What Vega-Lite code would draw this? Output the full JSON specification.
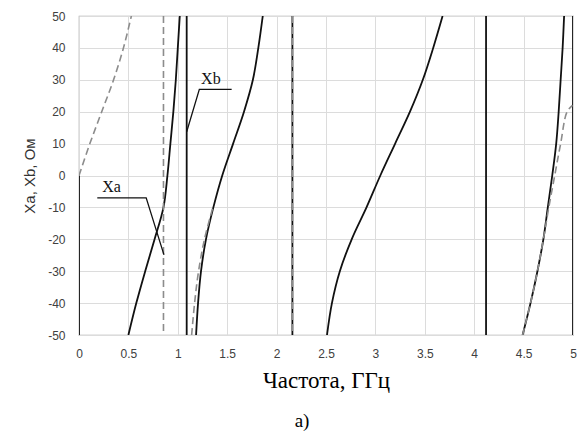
{
  "$schema": "https://vega.github.io/schema/vega-lite/v6.json",
  "width": 494,
  "height": 319,
  "autosize": "none",
  "padding": {"left": 79, "top": 16, "right": 6, "bottom": 100},
  "background": "white",
  "config": {
    "view": {"stroke": "#a6a6a6", "strokeWidth": 1.2},
    "axis": {"domain": false, "ticks": false, "grid": true, "gridColor": "#dcdcdc", "gridWidth": 1,
             "labelFont": "Liberation Sans", "labelFontSize": 12, "labelColor": "#404040",
             "labelFlush": false}
  },
  "title": {"text": "а)", "orient": "bottom", "anchor": "middle", "dx": -24, "offset": 20,
            "font": "Liberation Serif", "fontSize": 19, "fontWeight": "normal", "color": "#000"},
  "datasets": {
    "curves": [
      {"s": "b0", "t": "Xb", "i": 0, "f": 0, "x": 0},
      {"s": "b0", "t": "Xb", "i": 1, "f": 0, "x": -50},
      {"s": "b1", "t": "Xb", "i": 0, "f": 0.5, "x": -50},
      {"s": "b1", "t": "Xb", "i": 1, "f": 0.58, "x": -40},
      {"s": "b1", "t": "Xb", "i": 2, "f": 0.67, "x": -30},
      {"s": "b1", "t": "Xb", "i": 3, "f": 0.765, "x": -20},
      {"s": "b1", "t": "Xb", "i": 4, "f": 0.855, "x": -10},
      {"s": "b1", "t": "Xb", "i": 5, "f": 0.895, "x": 0},
      {"s": "b1", "t": "Xb", "i": 6, "f": 0.925, "x": 10},
      {"s": "b1", "t": "Xb", "i": 7, "f": 0.955, "x": 20},
      {"s": "b1", "t": "Xb", "i": 8, "f": 0.98, "x": 30},
      {"s": "b1", "t": "Xb", "i": 9, "f": 1.0, "x": 40},
      {"s": "b1", "t": "Xb", "i": 10, "f": 1.02, "x": 50},
      {"s": "b2", "t": "Xb", "i": 0, "f": 1.09, "x": -50},
      {"s": "b2", "t": "Xb", "i": 1, "f": 1.09, "x": 50},
      {"s": "b3", "t": "Xb", "i": 0, "f": 1.185, "x": -50},
      {"s": "b3", "t": "Xb", "i": 1, "f": 1.205, "x": -40},
      {"s": "b3", "t": "Xb", "i": 2, "f": 1.235, "x": -30},
      {"s": "b3", "t": "Xb", "i": 3, "f": 1.285, "x": -20},
      {"s": "b3", "t": "Xb", "i": 4, "f": 1.36, "x": -10},
      {"s": "b3", "t": "Xb", "i": 5, "f": 1.45, "x": 0},
      {"s": "b3", "t": "Xb", "i": 6, "f": 1.56, "x": 10},
      {"s": "b3", "t": "Xb", "i": 7, "f": 1.67, "x": 20},
      {"s": "b3", "t": "Xb", "i": 8, "f": 1.76, "x": 30},
      {"s": "b3", "t": "Xb", "i": 9, "f": 1.815, "x": 40},
      {"s": "b3", "t": "Xb", "i": 10, "f": 1.86, "x": 50},
      {"s": "b4", "t": "Xb", "i": 0, "f": 2.16, "x": -50},
      {"s": "b4", "t": "Xb", "i": 1, "f": 2.16, "x": 50},
      {"s": "b5", "t": "Xb", "i": 0, "f": 2.51, "x": -50},
      {"s": "b5", "t": "Xb", "i": 1, "f": 2.56, "x": -40},
      {"s": "b5", "t": "Xb", "i": 2, "f": 2.64, "x": -30},
      {"s": "b5", "t": "Xb", "i": 3, "f": 2.76, "x": -20},
      {"s": "b5", "t": "Xb", "i": 4, "f": 2.91, "x": -10},
      {"s": "b5", "t": "Xb", "i": 5, "f": 3.05, "x": 0},
      {"s": "b5", "t": "Xb", "i": 6, "f": 3.2, "x": 10},
      {"s": "b5", "t": "Xb", "i": 7, "f": 3.35, "x": 20},
      {"s": "b5", "t": "Xb", "i": 8, "f": 3.48, "x": 30},
      {"s": "b5", "t": "Xb", "i": 9, "f": 3.585, "x": 40},
      {"s": "b5", "t": "Xb", "i": 10, "f": 3.68, "x": 50},
      {"s": "b6", "t": "Xb", "i": 0, "f": 4.12, "x": -50},
      {"s": "b6", "t": "Xb", "i": 1, "f": 4.12, "x": 50},
      {"s": "b7", "t": "Xb", "i": 0, "f": 4.49, "x": -50},
      {"s": "b7", "t": "Xb", "i": 1, "f": 4.57, "x": -40},
      {"s": "b7", "t": "Xb", "i": 2, "f": 4.64, "x": -30},
      {"s": "b7", "t": "Xb", "i": 3, "f": 4.7, "x": -20},
      {"s": "b7", "t": "Xb", "i": 4, "f": 4.745, "x": -10},
      {"s": "b7", "t": "Xb", "i": 5, "f": 4.79, "x": 0},
      {"s": "b7", "t": "Xb", "i": 6, "f": 4.83, "x": 10},
      {"s": "b7", "t": "Xb", "i": 7, "f": 4.855, "x": 20},
      {"s": "b7", "t": "Xb", "i": 8, "f": 4.875, "x": 30},
      {"s": "b7", "t": "Xb", "i": 9, "f": 4.895, "x": 40},
      {"s": "b7", "t": "Xb", "i": 10, "f": 4.91, "x": 50},
      {"s": "b8", "t": "Xb", "i": 0, "f": 5, "x": -50},
      {"s": "b8", "t": "Xb", "i": 1, "f": 5, "x": 50},
      {"s": "a1", "t": "Xa", "i": 0, "f": 0, "x": 0},
      {"s": "a1", "t": "Xa", "i": 1, "f": 0.11, "x": 10},
      {"s": "a1", "t": "Xa", "i": 2, "f": 0.23, "x": 20},
      {"s": "a1", "t": "Xa", "i": 3, "f": 0.35, "x": 30},
      {"s": "a1", "t": "Xa", "i": 4, "f": 0.45, "x": 40},
      {"s": "a1", "t": "Xa", "i": 5, "f": 0.53, "x": 50},
      {"s": "a2", "t": "Xa", "i": 0, "f": 0.855, "x": 50},
      {"s": "a2", "t": "Xa", "i": 1, "f": 0.855, "x": -50},
      {"s": "a3", "t": "Xa", "i": 0, "f": 1.14, "x": -50},
      {"s": "a3", "t": "Xa", "i": 1, "f": 1.17, "x": -40},
      {"s": "a3", "t": "Xa", "i": 2, "f": 1.21, "x": -30},
      {"s": "a3", "t": "Xa", "i": 3, "f": 1.27, "x": -20},
      {"s": "a3", "t": "Xa", "i": 4, "f": 1.355, "x": -10},
      {"s": "a4", "t": "Xa", "i": 0, "f": 2.16, "x": 50},
      {"s": "a4", "t": "Xa", "i": 1, "f": 2.16, "x": -50},
      {"s": "a7", "t": "Xa", "i": 0, "f": 4.49, "x": -50},
      {"s": "a7", "t": "Xa", "i": 1, "f": 4.57, "x": -40},
      {"s": "a7", "t": "Xa", "i": 2, "f": 4.64, "x": -30},
      {"s": "a7", "t": "Xa", "i": 3, "f": 4.7, "x": -20},
      {"s": "a7", "t": "Xa", "i": 4, "f": 4.755, "x": -10},
      {"s": "a7", "t": "Xa", "i": 5, "f": 4.815, "x": 0},
      {"s": "a7", "t": "Xa", "i": 6, "f": 4.875, "x": 10},
      {"s": "a7", "t": "Xa", "i": 7, "f": 4.94, "x": 20},
      {"s": "a7", "t": "Xa", "i": 8, "f": 4.995, "x": 22}
    ],
    "leaders": [
      {"s": "La", "i": 0, "f": 0.185, "x": -7.0},
      {"s": "La", "i": 1, "f": 0.68, "x": -7.0},
      {"s": "La", "i": 2, "f": 0.86, "x": -24.9},
      {"s": "Lb", "i": 0, "f": 1.545, "x": 27.0},
      {"s": "Lb", "i": 1, "f": 1.218, "x": 27.0},
      {"s": "Lb", "i": 2, "f": 1.09, "x": 13.7}
    ],
    "labels": [
      {"label": "Xa", "f": 0.33, "x": -5.1},
      {"label": "Xb", "f": 1.335, "x": 28.6}
    ]
  },
  "encoding": {
    "x": {"field": "f", "type": "quantitative",
          "scale": {"domain": [0, 5], "nice": false, "zero": false},
          "axis": {"tickCount": 10, "labelExpr": "datum.value",
                   "labelOverlap": false, "labelPadding": 13, "title": "Частота, ГГц", "titleFont": "Liberation Serif",
                   "titleFontSize": 23, "titleFontWeight": "normal", "titleColor": "#000", "titlePadding": 10}},
    "y": {"field": "x", "type": "quantitative",
          "scale": {"domain": [-50, 50], "nice": false, "zero": false},
          "axis": {"tickCount": 10, "labelExpr": "datum.value",
                   "labelOverlap": false, "labelPadding": 14, "title": "Xa, Xb, Ом", "titleFont": "Liberation Sans",
                   "titleFontSize": 15, "titleFontWeight": "normal", "titleColor": "#333", "titlePadding": 10}}
  },
  "layer": [
    {
      "data": {"name": "curves"},
      "transform": [{"filter": "datum.t == 'Xb'"}],
      "mark": {"type": "line", "color": "#111", "strokeWidth": 1.8, "clip": true, "interpolate": "catmull-rom"},
      "encoding": {
        "detail": {"field": "s"},
        "order": {"field": "i", "type": "quantitative"}
      }
    },
    {
      "data": {"name": "curves"},
      "transform": [{"filter": "datum.t == 'Xa'"}],
      "mark": {"type": "line", "color": "#8c8c8c", "strokeWidth": 1.6, "strokeDash": [7, 4], "clip": true, "interpolate": "catmull-rom"},
      "encoding": {
        "detail": {"field": "s"},
        "order": {"field": "i", "type": "quantitative"}
      }
    },
    {
      "data": {"name": "leaders"},
      "mark": {"type": "line", "color": "#111", "strokeWidth": 1.3},
      "encoding": {
        "detail": {"field": "s"},
        "order": {"field": "i", "type": "quantitative"}
      }
    },
    {
      "data": {"name": "labels"},
      "mark": {"type": "text", "font": "Liberation Serif", "fontSize": 16, "color": "#111", "baseline": "alphabetic", "align": "center"},
      "encoding": {
        "text": {"field": "label"}
      }
    }
  ]
}
